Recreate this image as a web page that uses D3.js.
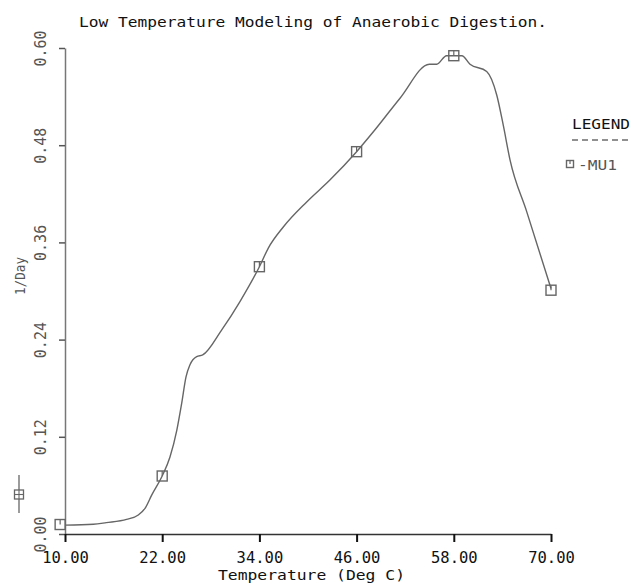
<!DOCTYPE html>
<html>
<head>
<meta charset="utf-8">
<script src="https://cdn.jsdelivr.net/npm/d3@7"></script>
<style>
  body { margin: 0; background: #fff; }
  svg { display: block; }
</style>
</head>
<body>
<script>
// curve: temperature (deg C) and growth rate (1/day)
var curveT = [10, 13.5, 15.1, 17.6, 19.05, 19.9, 20.7, 22, 22.96, 23.8, 24.4, 24.94, 25.43, 26.26, 27.0,
              29.35, 31.6, 34.0, 35.1, 36.95, 39.84, 42.7, 46.0, 48.27, 51.36, 54.98, 55.9, 57.1, 59.0,
              60.0, 62.06, 63.3, 64.1, 64.94, 67.0, 70.0];
var curveMu = [0.011, 0.012, 0.014, 0.018, 0.0235, 0.032, 0.048, 0.0716, 0.095, 0.128, 0.161, 0.194, 0.209, 0.219, 0.221,
               0.252, 0.287, 0.330, 0.353, 0.379, 0.410, 0.437, 0.472, 0.499, 0.538, 0.580, 0.580, 0.5905, 0.5905,
               0.580, 0.571, 0.542, 0.505, 0.462, 0.398, 0.303];
// square markers
var markT = [9.4, 22, 34, 46, 58, 70];
var markMu = [0.0117, 0.0716, 0.330, 0.472, 0.5905, 0.301];

var xTicks = [10, 22, 34, 46, 58, 70];
var yTicks = [0, 0.12, 0.24, 0.36, 0.48, 0.60];

var width = 631, height = 588;
var mono = "'DejaVu Sans Mono', monospace";

var x = d3.scaleLinear().domain([10, 70]).range([65, 551]);
var y = d3.scaleLinear().domain([0, 0.6]).range([534, 48]);

var svg = d3.select("body").append("svg")
    .attr("width", width)
    .attr("height", height)
    .style("font-family", mono);

// title
svg.append("text")
    .attr("x", 79).attr("y", 27)
    .attr("textLength", 468).attr("lengthAdjust", "spacingAndGlyphs")
    .style("font-size", "14.5px")
    .attr("fill", "#111")
    .text("Low Temperature Modeling of Anaerobic Digestion.");

// y axis
var yAxis = svg.append("g")
    .attr("transform", "translate(65,0)")
    .call(d3.axisLeft(y).tickValues(yTicks).tickSize(6).tickSizeOuter(0).tickFormat(d3.format(".2f")));
yAxis.select(".domain").attr("stroke", "#777").attr("stroke-width", 1.5);
yAxis.selectAll(".tick line").attr("stroke", "#555").attr("stroke-width", 1.5);
yAxis.selectAll(".tick text")
    .attr("x", null).attr("dy", null)
    .attr("text-anchor", "middle")
    .attr("transform", "translate(-19,0) rotate(-90)")
    .attr("fill", "#555")
    .style("font-family", mono)
    .style("font-size", "15px");

// x axis
var xAxis = svg.append("g")
    .attr("transform", "translate(0,534)")
    .call(d3.axisBottom(x).tickValues(xTicks).tickSize(8).tickSizeOuter(0).tickFormat(d3.format(".2f")));
xAxis.select(".domain").attr("stroke", "#333").attr("stroke-width", 1.5);
xAxis.selectAll(".tick line").attr("stroke", "#111").attr("stroke-width", 2);
xAxis.selectAll(".tick text")
    .attr("y", 29).attr("dy", null)
    .attr("fill", "#111")
    .style("font-family", mono)
    .style("font-size", "15.5px");

// axis titles
svg.append("text")
    .attr("x", 218).attr("y", 580)
    .attr("textLength", 187).attr("lengthAdjust", "spacingAndGlyphs")
    .style("font-size", "14px")
    .attr("fill", "#111")
    .text("Temperature  (Deg C)");

svg.append("text")
    .attr("transform", "translate(25,276) rotate(-90)")
    .attr("text-anchor", "middle")
    .attr("textLength", 38).attr("lengthAdjust", "spacingAndGlyphs")
    .style("font-size", "14px")
    .attr("fill", "#555")
    .text("1/Day");

// curve
var pts = curveT.map((t, i) => [t, curveMu[i]]);
svg.append("path")
    .datum(pts)
    .attr("fill", "none")
    .attr("stroke", "#666")
    .attr("stroke-width", 1.4)
    .attr("d", d3.line().x(d => x(d[0])).y(d => y(d[1])).curve(d3.curveMonotoneX));

// markers: square with small tick from the top
function marker(g, cx, cy, s) {
  g.append("rect")
      .attr("x", cx - s / 2).attr("y", cy - s / 2)
      .attr("width", s).attr("height", s)
      .attr("fill", "none").attr("stroke", "#666").attr("stroke-width", 1.4);
  g.append("line")
      .attr("x1", cx).attr("x2", cx)
      .attr("y1", cy - s / 2).attr("y2", cy)
      .attr("stroke", "#666").attr("stroke-width", 1.2);
}
var mk = svg.append("g");
markT.forEach((t, i) => marker(mk, x(t), y(markMu[i]), 10));

// symbol on the left
svg.append("line")
    .attr("x1", 19).attr("x2", 19).attr("y1", 475).attr("y2", 513)
    .attr("stroke", "#666").attr("stroke-width", 1.3);
svg.append("rect")
    .attr("x", 14.5).attr("y", 490).attr("width", 9).attr("height", 9)
    .attr("fill", "#fff").attr("stroke", "#666").attr("stroke-width", 1.3);
svg.append("line")
    .attr("x1", 14.5).attr("x2", 23.5).attr("y1", 494.5).attr("y2", 494.5)
    .attr("stroke", "#666").attr("stroke-width", 1.1);
svg.append("line")
    .attr("x1", 19).attr("x2", 19).attr("y1", 490).attr("y2", 499)
    .attr("stroke", "#666").attr("stroke-width", 1.1);

// legend
var leg = svg.append("g");
leg.append("text")
    .attr("x", 572).attr("y", 129)
    .attr("textLength", 58).attr("lengthAdjust", "spacingAndGlyphs")
    .style("font-size", "14px")
    .attr("fill", "#111")
    .text("LEGEND");
leg.append("line")
    .attr("x1", 572).attr("x2", 630).attr("y1", 140).attr("y2", 140)
    .attr("stroke", "#222").attr("stroke-width", 1.2)
    .attr("stroke-dasharray", "6,4");
marker(leg, 570, 164, 7);
leg.append("text")
    .attr("x", 578).attr("y", 170)
    .attr("textLength", 39).attr("lengthAdjust", "spacingAndGlyphs")
    .style("font-size", "14px")
    .attr("fill", "#555")
    .text("-MU1");
</script>
</body>
</html>
